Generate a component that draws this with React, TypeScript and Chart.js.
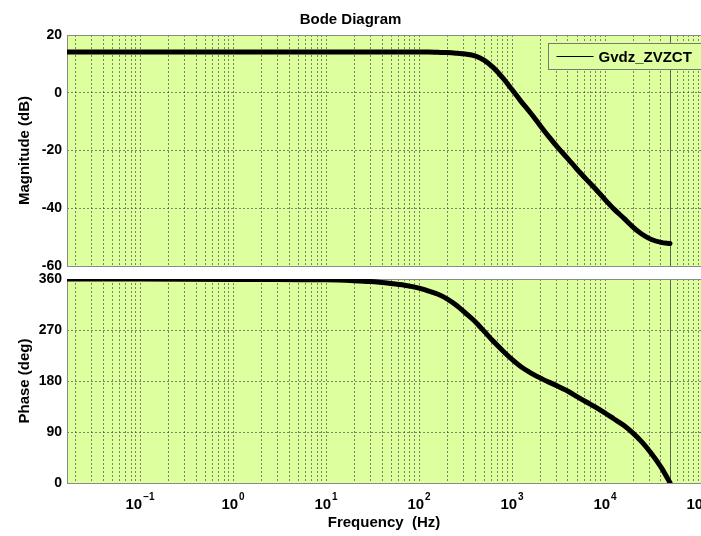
import React, { useEffect, useRef } from 'react';
import { Chart, registerables } from 'chart.js';

Chart.register(...registerables);

// ---- data ----
const freqHz = [0.0164, 0.1, 1, 3, 10, 20, 30, 50, 70, 100, 125, 160, 200, 250, 315, 400, 500, 630, 800, 1000, 1250, 1600, 2000, 2500, 3150, 4000, 5000, 6300, 8000, 10000, 12500, 16000, 20000, 25000, 31500, 40000, 50000];
const magnitudeDb = [14.1, 14.1, 14.1, 14.1, 14.1, 14.1, 14.1, 14.1, 14.1, 14.1, 14.1, 14.0, 13.9, 13.7, 13.4, 12.8, 11.3, 8.7, 5.1, 1.1, -3.0, -7.2, -11.3, -15.3, -19.2, -22.9, -26.5, -30.0, -33.5, -37.0, -40.3, -43.5, -46.5, -49.0, -50.8, -51.8, -52.2];
const phaseDeg = [360, 360, 359.2, 359, 358.5, 357, 355.5, 352, 349, 344, 339, 333, 325, 314, 300, 285, 268, 250, 233, 218, 205, 194, 185.5, 178, 170.5, 162, 152.5, 143, 133.5, 123.5, 113, 101.5, 88, 72, 52, 28, 0.5];
const magTicks = [-60, -40, -20, 0, 20];
const phaseTicks = [0, 90, 180, 270, 360];
const decadeExponents = [-1, 0, 1, 2, 3, 4, 5];
const seriesName = 'Gvdz_ZVZCT';
const chartTitle = 'Bode Diagram';
const xTitle = 'Frequency  (Hz)';
const magTitle = 'Magnitude (dB)';
const phaseTitle = 'Phase (deg)';

const X_MIN = 0.0164;
const X_MAX = 1.077e5;

const FAMILY = "'Liberation Sans', Arial, Helvetica, sans-serif";
const BG = 'rgb(221,255,157)';
const GRID = 'rgba(80,80,80,0.7)';
const tickFont = { family: FAMILY, size: 14, weight: 'bold' as const };
const labelFont = { family: FAMILY, size: 15, weight: 'bold' as const };

function buildXTicks(scale: any) {
  const t: any[] = [];
  for (let e = -2; e <= 5; e++) {
    for (let m = 1; m <= 9; m++) {
      const v = m * Math.pow(10, e);
      if (v >= X_MIN && v <= X_MAX) t.push({ value: v });
    }
  }
  scale.ticks = t;
}

function makeX(showLabels: boolean) {
  return {
    type: 'logarithmic' as const,
    min: X_MIN,
    max: X_MAX,
    afterBuildTicks: buildXTicks,
    afterFit: (s: any) => {
      s.paddingLeft = 0;
      s.paddingRight = 0;
      s.height = showLabels ? 53 : 0;
    },
    grid: { color: GRID, lineWidth: 1, drawTicks: false },
    border: { display: false, dash: [2, 2] },
    ticks: { display: false, autoSkip: false, maxRotation: 0 },
    title: {
      display: showLabels,
      text: xTitle,
      font: labelFont,
      color: '#000',
      padding: { top: 0, bottom: 4 },
    },
  };
}

function makeY(min: number, max: number, ticks: number[], title: string) {
  return {
    type: 'linear' as const,
    min,
    max,
    afterBuildTicks: (s: any) => {
      s.ticks = ticks.map((v) => ({ value: v }));
    },
    afterFit: (s: any) => {
      s.width = 67;
      s.paddingTop = 0;
      s.paddingBottom = 0;
    },
    grid: { color: GRID, lineWidth: 1, drawTicks: false },
    border: { display: false, dash: [2, 2] },
    ticks: { padding: 5, font: tickFont, color: '#000' },
    title: {
      display: true,
      text: title,
      font: labelFont,
      color: '#000',
      padding: { top: 16, bottom: 0 },
    },
  };
}

const bgPlugin = {
  id: 'plotBg',
  beforeDraw(chart: any) {
    const { ctx, chartArea: a } = chart;
    ctx.save();
    ctx.fillStyle = BG;
    ctx.fillRect(a.left, a.top, a.right - a.left, a.bottom - a.top);
    ctx.restore();
  },
};

const boxPlugin = {
  id: 'plotBox',
  beforeDatasetsDraw(chart: any) {
    const { ctx, chartArea: a, scales } = chart;
    ctx.save();
    const xe = Math.round(scales.x.getPixelForValue(freqHz[freqHz.length - 1])) + 0.5;
    ctx.strokeStyle = 'rgba(70,80,60,0.8)';
    ctx.lineWidth = 1;
    ctx.beginPath();
    ctx.moveTo(xe, a.top);
    ctx.lineTo(xe, a.bottom);
    ctx.stroke();
    ctx.strokeStyle = '#8a8a8a';
    ctx.strokeRect(Math.round(a.left) + 0.5, Math.round(a.top) + 0.5, a.right - a.left + 5, Math.round(a.bottom - a.top));
    ctx.restore();
  },
};

// decade tick labels with superscript exponents, placed through the x scale
const decadeLabelPlugin = {
  id: 'decadeLabels',
  afterDraw(chart: any) {
    const { ctx, chartArea: a, scales } = chart;
    const sx = scales.x;
    ctx.save();
    ctx.fillStyle = '#000';
    ctx.textBaseline = 'alphabetic';
    ctx.textAlign = 'left';
    const baseY = a.bottom + 26;
    decadeExponents.forEach((e) => {
      const v = Math.pow(10, e);
      if (v < X_MIN || v > X_MAX) return;
      const x = sx.getPixelForValue(v);
      const base = '10';
      const exp = String(e).replace('-', '\u2212');
      ctx.font = `bold 15px ${FAMILY}`;
      const w1 = ctx.measureText(base).width;
      ctx.font = `bold 10px ${FAMILY}`;
      const w2 = ctx.measureText(exp).width;
      const x0 = x - (w1 + w2 + 1) / 2;
      ctx.font = `bold 15px ${FAMILY}`;
      ctx.fillText(base, x0, baseY);
      ctx.font = `bold 10px ${FAMILY}`;
      ctx.fillText(exp, x0 + w1 + 1, baseY - 9);
    });
    ctx.restore();
  },
};

const legendPlugin = {
  id: 'boxLegend',
  afterDraw(chart: any) {
    const { ctx, chartArea: a } = chart;
    const ds = chart.data.datasets[0];
    const x0 = Math.round(a.right - 153) + 0.5;
    const y0 = Math.round(a.top + 8) + 0.5;
    const h = 26;
    ctx.save();
    ctx.fillStyle = BG;
    ctx.fillRect(x0, y0, 200, h);
    ctx.strokeStyle = '#777';
    ctx.lineWidth = 1;
    ctx.strokeRect(x0, y0, 200, h);
    ctx.strokeStyle = '#000';
    ctx.beginPath();
    ctx.moveTo(x0 + 8, y0 + h / 2);
    ctx.lineTo(x0 + 45, y0 + h / 2);
    ctx.stroke();
    ctx.fillStyle = '#000';
    ctx.font = `bold 15px ${FAMILY}`;
    ctx.textBaseline = 'middle';
    ctx.textAlign = 'left';
    ctx.fillText(ds.label, x0 + 50, y0 + h / 2 + 1);
    ctx.restore();
  },
};

function lineDataset(values: number[]) {
  return {
    label: seriesName,
    data: freqHz.map((f, i) => ({ x: f, y: values[i] })),
    borderColor: '#000',
    backgroundColor: '#000',
    borderWidth: 5,
    borderJoinStyle: 'round' as const,
    borderCapStyle: 'round' as const,
    pointRadius: 0,
    fill: false,
    tension: 0.3,
  };
}

export default function App() {
  const topRef = useRef<HTMLCanvasElement>(null);
  const botRef = useRef<HTMLCanvasElement>(null);

  useEffect(() => {
    const top = new Chart(topRef.current as HTMLCanvasElement, {
      type: 'line',
      data: { datasets: [lineDataset(magnitudeDb)] },
      options: {
        animation: false,
        responsive: false,
        devicePixelRatio: 1,
        layout: { padding: { left: 0, right: 0, top: 0, bottom: 14 } },
        plugins: {
          legend: { display: false },
          tooltip: { enabled: false },
          title: {
            display: true,
            text: chartTitle,
            font: labelFont,
            color: '#000',
            padding: { top: 11, bottom: 6 },
          },
        },
        scales: {
          x: makeX(false) as any,
          y: makeY(-60, 20, magTicks, magTitle) as any,
        },
      },
      plugins: [bgPlugin, boxPlugin, legendPlugin],
    });
    const bot = new Chart(botRef.current as HTMLCanvasElement, {
      type: 'line',
      data: { datasets: [lineDataset(phaseDeg)] },
      options: {
        animation: false,
        responsive: false,
        devicePixelRatio: 1,
        layout: { padding: { left: 0, right: 0, top: 17, bottom: 0 } },
        plugins: {
          legend: { display: false },
          tooltip: { enabled: false },
        },
        scales: {
          x: makeX(true) as any,
          y: makeY(0, 360, phaseTicks, phaseTitle) as any,
        },
      },
      plugins: [bgPlugin, boxPlugin, decadeLabelPlugin],
    });
    return () => {
      top.destroy();
      bot.destroy();
    };
  }, []);

  return (
    <div style={{ position: 'fixed', left: 0, top: 0, width: 701, height: 536, overflow: 'hidden', background: '#fff' }}>
      <canvas ref={topRef} width={701} height={280} style={{ position: 'absolute', left: 0, top: 0, width: 701, height: 280 }} />
      <canvas ref={botRef} width={701} height={274} style={{ position: 'absolute', left: 0, top: 262, width: 701, height: 274 }} />
    </div>
  );
}
